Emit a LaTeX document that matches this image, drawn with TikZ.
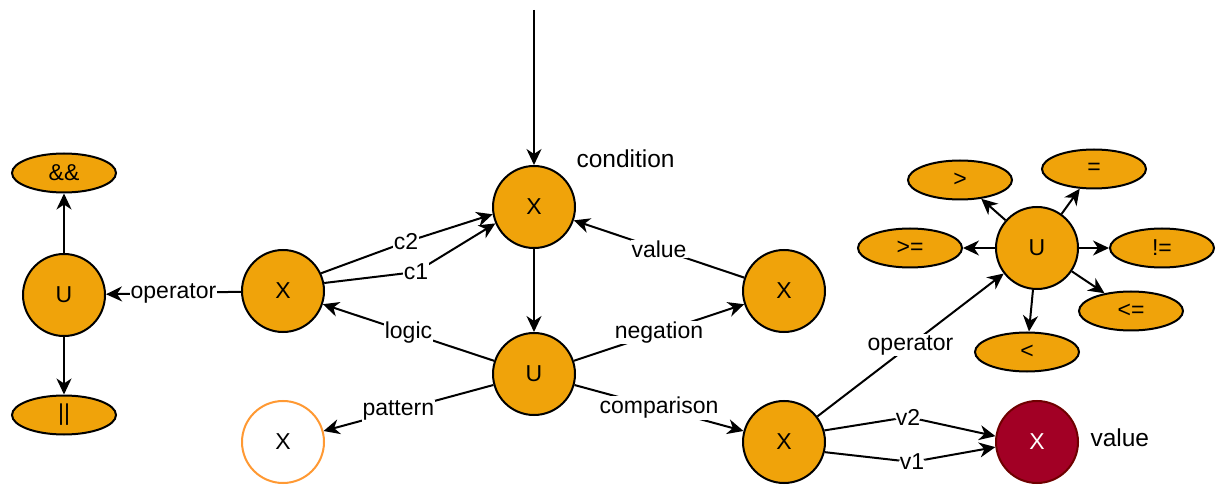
\documentclass[tikz,border=0pt]{standalone}
\usepackage{fontspec}
\setmainfont{Liberation Sans}
\usetikzlibrary{arrows.meta,shapes.geometric}
\definecolor{orf}{HTML}{F0A30A}
\definecolor{vred}{HTML}{A20025}
\definecolor{vredl}{HTML}{6F0000}
\definecolor{porange}{HTML}{FF9933}
\begin{document}
\begin{tikzpicture}[x=1pt,y=-1pt, font=\fontsize{23}{27}\selectfont,
  circ/.style={circle, draw=black, line width=2pt, fill=orf, minimum size=82pt, inner sep=0pt},
  ell/.style={ellipse, draw=black, line width=2pt, fill=orf, minimum width=104pt, minimum height=39pt, inner sep=0pt},
  arr/.style={line width=2pt, -{Stealth[length=16pt,width=15pt,inset=5pt]}},
  lab/.style={fill=white, inner sep=1pt},
  free/.style={anchor=west, font=\fontsize{24.5}{28}\selectfont}]
\useasboundingbox (0,0) rectangle (1221,486);
% nodes
\coordinate (top) at (534,10);
\node[circ] (cond) at (534,207) {X};
\node[free] (condlab) at (573,159) {condition};
\node[circ] (u) at (534,374) {U};
\node[circ] (xl) at (283,291) {X};
\node[circ] (xr) at (784,291) {X};
\node[circ, fill=white, draw=porange] (pat) at (283,442) {X};
\node[circ] (cx) at (784,442) {X};
\node[circ, fill=vred, draw=vredl, text=white] (val) at (1037,442) {X};
\node[free] (vallab) at (1087,438) {value};
\node[circ] (ul) at (64,295) {U};
\node[ell] (and) at (64,173) {\&\&};
\node[ell] (or) at (64,415) {||};
\node[circ] (ur) at (1037,248) {U};
\node[ell] (gt) at (960,180) {>};
\node[ell] (eq) at (1094,169) {=};
\node[ell] (ge) at (910,248) {>=};
\node[ell] (ne) at (1162,248) {!=};
\node[ell] (le) at (1131,311) {<=};
\node[ell] (lt) at (1027,352) {<};
% edges
\draw[arr] (top) -- (cond);
\draw[arr] (cond) -- (u);
\draw[arr] (xl.25) -- (406,242) node[lab]{c2} -- (cond.190);
\draw[arr] (xl.11) -- (416,272) node[lab]{c1} -- (cond.203);
\draw[arr] (xr) -- node[lab]{value} (cond);
\draw[arr] (u) -- node[lab]{logic} (xl);
\draw[arr] (u) -- node[lab]{negation} (xr);
\draw[arr] (u) -- node[lab, pos=0.56]{pattern} (pat);
\draw[arr] (u) -- node[lab]{comparison} (cx);
\draw[arr] (xl) -- node[lab]{operator} (ul);
\draw[arr] (ul) -- (and);
\draw[arr] (ul) -- (or);
\draw[arr] (cx) -- node[lab]{operator} (ur);
\draw[arr, rounded corners=12pt] (cx.16) -- (908,417) node[lab]{v2} -- (val.172);
\draw[arr, rounded corners=12pt] (cx.346) -- (912,462) node[lab]{v1} -- (val.187);
\draw[arr] (ur) -- (gt);
\draw[arr] (ur) -- (eq);
\draw[arr] (ur) -- (ge);
\draw[arr] (ur) -- (ne);
\draw[arr] (ur) -- (le);
\draw[arr] (ur) -- (lt);
\end{tikzpicture}
\end{document}
